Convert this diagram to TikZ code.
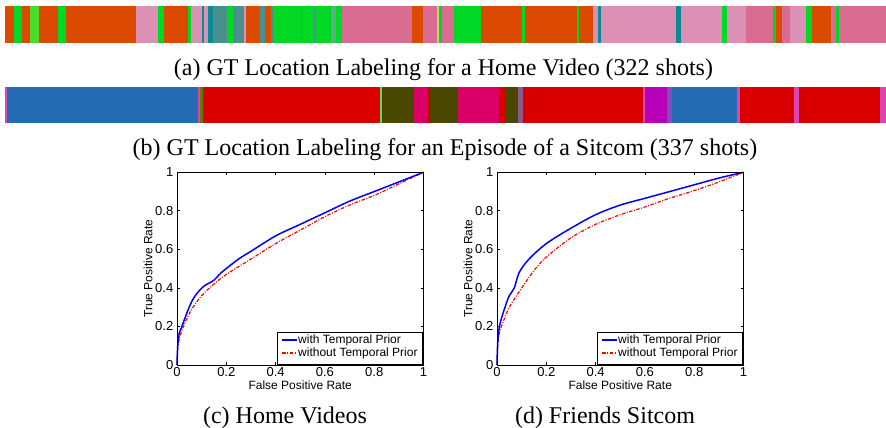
\documentclass[tikz,border=0pt]{standalone}
\usepackage{fontspec}
\setmainfont{Liberation Serif}
\newfontfamily\plotfont{Liberation Sans}

% label colours of the shot bars
\definecolor{lOR}{HTML}{DB4A00}
\definecolor{lGR}{HTML}{00D826}
\definecolor{lLG}{HTML}{4ADC28}
\definecolor{lPL}{HTML}{DB90B4}
\definecolor{lPD}{HTML}{DB6C91}
\definecolor{lTE}{HTML}{0E8A94}
\definecolor{lTG}{HTML}{4A9090}
\definecolor{lYG}{HTML}{C8D070}
\definecolor{lFG}{HTML}{5AB080}
\definecolor{lBL}{HTML}{256CB4}
\definecolor{lRD}{HTML}{DB0000}
\definecolor{lOL}{HTML}{4A4800}
\definecolor{lMG}{HTML}{DA0068}
\definecolor{lPU}{HTML}{B800B8}
\definecolor{lPM}{HTML}{D846B4}
\definecolor{lLT}{HTML}{70D060}
\definecolor{lPG}{HTML}{8A5A8A}
\definecolor{lPB}{HTML}{8050C0}
\definecolor{lOG}{HTML}{6A7A00}

\tikzset{
  caption/.style={font=\fontsize{24}{28}\selectfont, anchor=base, inner sep=0pt},
  ticklbl/.style={font=\plotfont\fontsize{13}{15}\selectfont, inner sep=1pt},
  axlbl/.style={font=\plotfont\fontsize{12}{14}\selectfont, inner sep=0pt},
  withprior/.style={draw=blue, line width=1.5pt, line join=round},
  withoutprior/.style={draw=red, line width=1.2pt, dash pattern=on 3.5pt off 1.5pt on 1pt off 1.5pt},
  axframe/.style={draw=black, line width=1pt},
}

% frame, ticks, tick labels and axis titles of one ROC panel
\newcommand\rocframe{%
  \draw[axframe] (0,0) rectangle (1,1);
  \foreach \t in {0,0.2,0.4,0.6,0.8,1}{
    \draw[line width=0.7pt] (\t,0) -- ++(0pt,3pt);
    \draw[line width=0.7pt] (\t,1) -- ++(0pt,-3pt);
    \draw[line width=0.7pt] (0,\t) -- ++(3pt,0pt);
    \draw[line width=0.7pt] (1,\t) -- ++(-3pt,0pt);
    \node[ticklbl, anchor=east] at ([xshift=-2.5pt]0,\t) {\t};
    \node[ticklbl, anchor=north] at ([yshift=-1pt]\t,0) {\t};
  }
  \node[axlbl, anchor=base] (xlab) at ([yshift=-24pt]0.5,0) {False Positive Rate};
  \node[axlbl, rotate=90, anchor=center] (ylab) at ([xshift=-29pt]0,0.5) {True Positive Rate};
}

% legend box of one ROC panel
\newcommand\roclegend{%
  \draw[axframe, fill=white] (100pt,1pt) rectangle (245pt,33pt);
  \coordinate (la) at (105pt,25pt);
  \coordinate (lb) at (120pt,25pt);
  \coordinate (lc) at (105pt,12pt);
  \coordinate (ld) at (120pt,12pt);
  \draw[withprior] (la) -- (lb);
  \draw[withoutprior] (lc) -- (ld);
  \node[axlbl, anchor=west] (lw) at ([xshift=1pt]lb) {with Temporal Prior};
  \node[axlbl, anchor=west] (lwo) at ([xshift=1pt]ld) {without Temporal Prior};
}

\begin{document}
\begin{tikzpicture}[x=1pt, y=-1pt]
\useasboundingbox (0,0) rectangle (886,428);
\fill[white] (0,0) rectangle (886,428);

% shot labels of the home video
\foreach \a/\b/\c in {5/14/lOR, 14/22/lGR, 22/30/lOR, 30/39/lLG, 39/58/lOR, 58/66/lGR,
  66/136/lOR, 136/158/lPL, 158/164/lGR, 164/188/lOR, 188/191/lGR, 191/202/lPL,
  202/204/lTE, 204/208/lPL, 208/213/lTE, 213/227/lTG, 227/233/lGR, 233/244/lTG,
  244/246/lPL, 246/260/lOR, 260/265/lTG, 265/271/lOR, 271/273/lTG, 273/301/lGR,
  301/302/lTG, 302/314/lGR, 314/315/lTG, 315/331/lGR, 331/336/lFG, 336/342/lGR,
  342/412/lPD, 412/423/lOR, 423/437/lPD, 437/439/lYG, 439/442/lGR, 442/454/lPD,
  454/481/lGR, 481/522/lOR, 522/525/lGR, 525/577/lOR, 577/579/lGR, 579/593/lOR,
  593/598/lPL, 598/601/lTE, 601/676/lPL, 676/681/lTE, 681/722/lPL, 722/727/lGR,
  727/746/lPL, 746/773/lPD, 773/776/lGR, 776/782/lOR, 782/790/lPD, 790/806/lPL,
  806/812/lGR, 812/831/lOR, 831/836/lPD, 836/839/lGR, 839/886/lPD}
  \fill[\c] (\a,6) rectangle (\b,43);

\node[caption] (capa) at (443.5,76) {(a) GT Location Labeling for a Home Video (322 shots)};

% shot labels of the sitcom episode
\foreach \a/\b/\c in {5/7/lPM, 7/10/lBL, 10/198/lBL, 198/200/lPM, 200/203/lOG,
  203/380/lRD, 380/382/lLT, 382/414/lOL, 414/427/lMG, 427/429/lRD, 429/458/lOL,
  458/499/lMG, 499/505/lRD, 505/518/lOL, 518/523/lPG, 523/643/lRD, 643/645/lPM,
  645/667/lPU, 667/672/lPB, 672/737/lBL, 737/740/lPM, 740/794/lRD, 794/799/lPM,
  799/880/lRD, 880/886/lPM}
  \fill[\c] (\a,87) rectangle (\b,123);

\node[caption] (capb) at (445,155) {(b) GT Location Labeling for an Episode of a Sitcom (337 shots)};

% ROC curves, home videos
\begin{scope}[shift={(177pt,-365pt)}, x=246.5pt, y=192.7pt, name prefix=L-]
  \draw[withoutprior] plot[smooth, tension=0.5] coordinates {(0,0) (0.003,0.09) (0.01,0.14)
    (0.02,0.18) (0.04,0.24) (0.06,0.29) (0.1,0.36) (0.15,0.42) (0.2,0.47) (0.3,0.55)
    (0.4,0.63) (0.5,0.70) (0.6,0.77) (0.7,0.83) (0.8,0.88) (0.9,0.94) (1,1)};
  \draw[withprior] plot[smooth, tension=0.5] coordinates {(0,0) (0.003,0.1) (0.01,0.17)
    (0.02,0.2) (0.04,0.27) (0.06,0.33) (0.08,0.37) (0.11,0.41) (0.15,0.44) (0.18,0.48)
    (0.25,0.55) (0.3,0.59) (0.4,0.67) (0.5,0.73) (0.6,0.79) (0.7,0.85) (0.8,0.90)
    (0.9,0.95) (1,1)};
  \rocframe
  \roclegend
\end{scope}
\node[caption] (capc) at (285,423) {(c) Home Videos};

% ROC curves, sitcom
\begin{scope}[shift={(497pt,-365pt)}, x=246.5pt, y=192.7pt, name prefix=R-]
  \draw[withoutprior] plot[smooth, tension=0.5] coordinates {(0,0) (0.003,0.1) (0.01,0.17)
    (0.03,0.24) (0.05,0.30) (0.1,0.40) (0.15,0.49) (0.2,0.56) (0.3,0.66) (0.4,0.73)
    (0.5,0.78) (0.6,0.82) (0.7,0.865) (0.8,0.905) (0.9,0.95) (1,1)};
  \draw[withprior] plot[smooth, tension=0.5] coordinates {(0,0) (0.003,0.12) (0.01,0.2)
    (0.02,0.25) (0.035,0.31) (0.05,0.36) (0.07,0.40) (0.09,0.48) (0.13,0.55) (0.2,0.63)
    (0.3,0.71) (0.4,0.78) (0.5,0.83) (0.6,0.865) (0.7,0.90) (0.8,0.935) (0.9,0.97) (1,1)};
  \rocframe
  \roclegend
\end{scope}
\node[caption] (capd) at (605,423) {(d) Friends Sitcom};
\end{tikzpicture}
\end{document}
